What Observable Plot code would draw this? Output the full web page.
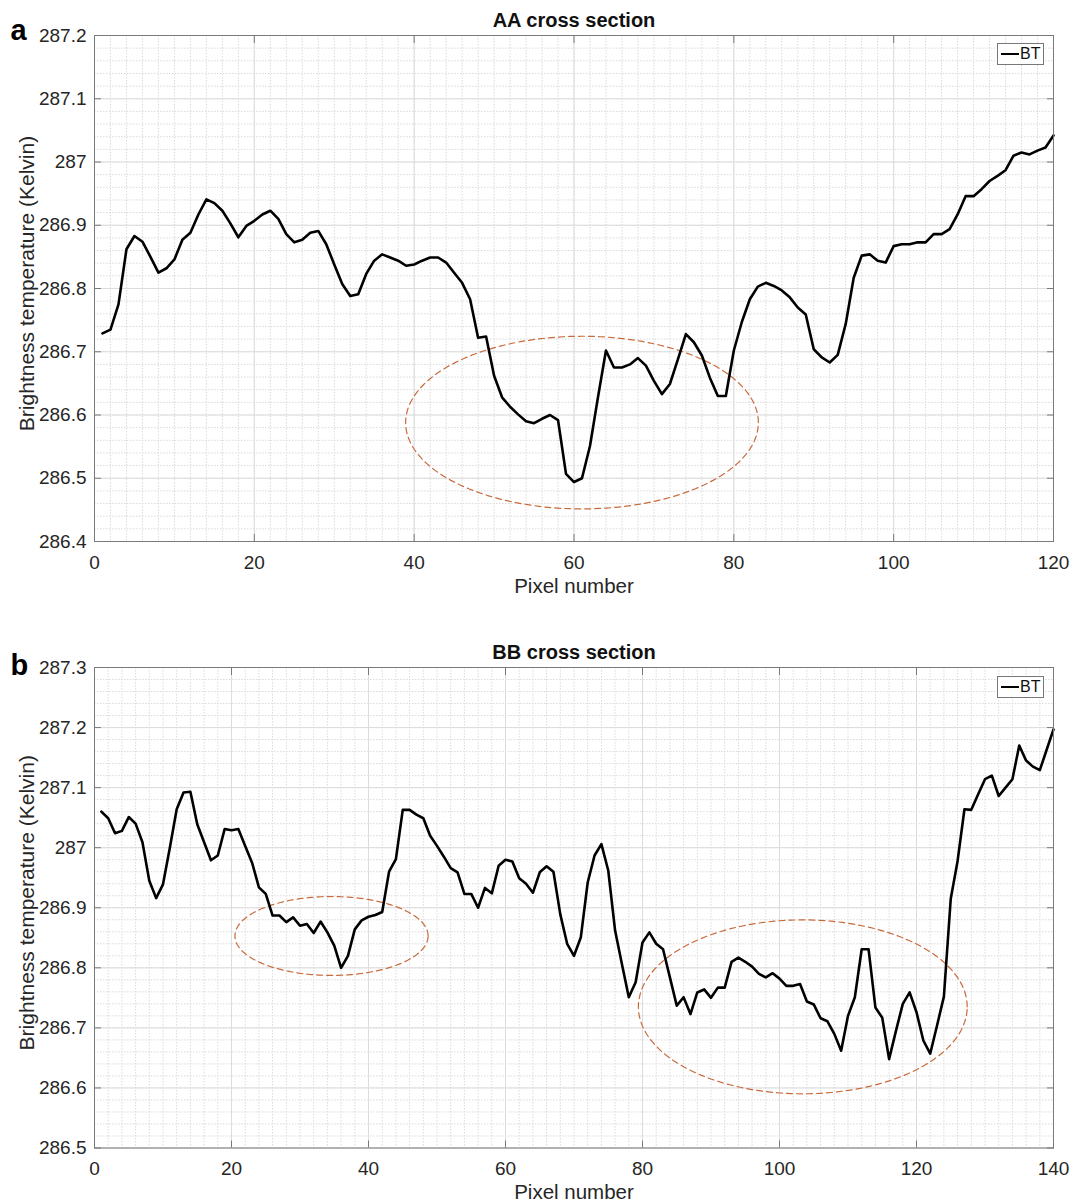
<!DOCTYPE html>
<html><head><meta charset="utf-8">
<script src="https://cdn.jsdelivr.net/npm/d3@7"></script>
<script src="https://cdn.jsdelivr.net/npm/@observablehq/plot@0.6"></script>
<style>
body{margin:0;background:#fff;font-family:"Liberation Sans",Arial,sans-serif;}
#wrap{position:relative;width:1075px;height:1203px;background:#fff;}
.panel{position:absolute;left:0;}
.legend{position:absolute;border:1px solid #777;background:#fff;box-sizing:border-box;font-size:16px;color:#111;}
.legend .ln{position:absolute;left:3px;width:18px;height:0;border-top:2.5px solid #000;}
.legend .tx{position:absolute;left:22px;}
</style></head><body><div id="wrap"></div>
<script>
// ---- Panel a: AA cross section ----
const titleA = "AA cross section";
const valuesA = [
286.729,286.735,286.775,286.862,286.883,286.874,286.850,286.825,286.832,286.846,
286.877,286.888,286.917,286.941,286.935,286.923,286.903,286.881,286.899,286.907,
286.917,286.923,286.910,286.886,286.873,286.877,286.888,286.891,286.870,286.838,
286.807,286.788,286.791,286.823,286.844,286.854,286.849,286.844,286.836,286.838,
286.844,286.849,286.849,286.841,286.825,286.809,286.783,286.722,286.724,286.662,
286.628,286.613,286.601,286.590,286.587,286.594,286.600,286.592,286.507,286.494,
286.500,286.551,286.628,286.702,286.675,286.675,286.680,286.690,286.678,286.654,
286.633,286.649,286.688,286.728,286.715,286.694,286.659,286.630,286.630,286.702,
286.747,286.783,286.803,286.809,286.804,286.797,286.786,286.770,286.759,286.704,
286.691,286.683,286.695,286.744,286.817,286.852,286.854,286.844,286.841,286.867,
286.870,286.870,286.873,286.873,286.886,286.886,286.894,286.917,286.946,286.946,
286.957,286.970,286.978,286.987,287.010,287.015,287.012,287.018,287.023,287.042];
const xTicksA = [0,20,40,60,80,100,120];
const yTicksA = [286.4,286.5,286.6,286.7,286.8,286.9,287.0,287.1,287.2];
// ellipse annotation: [cx, cy, rx, ry]
const ellipsesA = [[61.0, 286.588, 22.07, 0.1365]];

// ---- Panel b: BB cross section ----
const titleB = "BB cross section";
const valuesB = [
287.060,287.049,287.024,287.028,287.051,287.040,287.009,286.945,286.916,286.939,
287.000,287.064,287.092,287.093,287.039,287.009,286.979,286.987,287.031,287.029,
287.031,287.003,286.975,286.934,286.923,286.887,286.887,286.876,286.884,286.870,
286.873,286.858,286.877,286.859,286.837,286.800,286.820,286.864,286.879,286.885,
286.888,286.893,286.960,286.981,287.063,287.063,287.055,287.049,287.020,287.003,
286.985,286.966,286.959,286.923,286.923,286.900,286.933,286.924,286.970,286.980,
286.977,286.949,286.940,286.925,286.959,286.969,286.960,286.889,286.840,286.820,
286.851,286.942,286.987,287.006,286.962,286.862,286.806,286.751,286.776,286.842,
286.859,286.840,286.831,286.784,286.737,286.751,286.723,286.759,286.764,286.750,
286.767,286.767,286.810,286.817,286.810,286.802,286.790,286.784,286.791,286.782,
286.770,286.770,286.773,286.744,286.739,286.716,286.711,286.690,286.662,286.720,
286.751,286.831,286.831,286.734,286.717,286.648,286.695,286.740,286.759,286.726,
286.679,286.657,286.704,286.752,286.915,286.978,287.064,287.063,287.089,287.114,
287.120,287.086,287.100,287.114,287.170,287.145,287.135,287.129,287.163,287.197];
const xTicksB = [0,20,40,60,80,100,120,140];
const yTicksB = [286.5,286.6,286.7,286.8,286.9,287.0,287.1,287.2,287.3];
const ellipsesB = [[34.6, 286.853, 14.1, 0.0657], [103.4, 286.735, 24.0, 0.1448]];

const yLabel = "Brightness temperature (Kelvin)";
const xLabel = "Pixel number";
const seriesName = "BT";

const fmt = d => String(+(+d).toFixed(1));

function ellipsePoints(list) {
  const pts = [];
  list.forEach(([cx, cy, rx, ry], id) => {
    for (let a = 0; a < 360; a += 2) {
      const t = a * Math.PI / 180;
      pts.push({id, x: cx + rx * Math.cos(t), y: cy + ry * Math.sin(t)});
    }
  });
  return pts;
}

function panel({top, height, mt, mb, values, xTicks, yTicks, title, tag, tagDy, ellipses}) {
  const data = values.map((v, i) => ({x: i + 1, y: v}));
  const xd = [xTicks[0], xTicks[xTicks.length - 1]];
  const yd = [yTicks[0], yTicks[yTicks.length - 1]];
  const xMinor = d3.range(xd[0], xd[1] + 1e-9, 2);
  const yMinor = d3.range(0, Math.round((yd[1] - yd[0]) / 0.02) + 1).map(i => yd[0] + i * 0.02);
  const chart = Plot.plot({
    width: 1075, height, marginTop: mt, marginBottom: mb, marginLeft: 94, marginRight: 22,
    style: {fontFamily: "'Liberation Sans', Arial, sans-serif", fontSize: "19px", color: "#262626", background: "#fff"},
    x: {domain: xd},
    y: {domain: yd},
    marks: [
      Plot.ruleX(xMinor, {stroke: "#dadada", strokeDasharray: "1.5,1.5"}),
      Plot.ruleY(yMinor, {stroke: "#dadada", strokeDasharray: "1.5,1.5"}),
      Plot.ruleX(xTicks, {stroke: "#dcdcdc"}),
      Plot.ruleY(yTicks, {stroke: "#dcdcdc"}),
      Plot.line(ellipsePoints(ellipses), {x: "x", y: "y", z: "id", curve: "linear-closed", stroke: "#c96a3c", strokeWidth: 1.2, strokeDasharray: "6,4"}),
      Plot.line(data, {x: "x", y: "y", stroke: "#000", strokeWidth: 2.6}),
      Plot.frame({stroke: "#7a7a7a"}),
      Plot.axisX(xTicks, {anchor: "bottom", tickSize: -7, tickPadding: 20.5, stroke: "#7a7a7a", fill: "#262626", label: null, tickFormat: fmt}),
      Plot.axisX(xTicks, {anchor: "top", tickSize: -7, stroke: "#7a7a7a", label: null, tickFormat: () => ""}),
      Plot.axisY(yTicks, {anchor: "left", tickSize: -7, tickPadding: 15, stroke: "#7a7a7a", fill: "#262626", label: null, tickFormat: fmt}),
      Plot.axisY(yTicks, {anchor: "right", tickSize: -7, stroke: "#7a7a7a", label: null, tickFormat: () => ""}),
      Plot.text([title], {frameAnchor: "top", dy: -8.5, lineAnchor: "bottom", fontWeight: "bold", fontSize: 20, fill: "#111"}),
      Plot.text([tag], {frameAnchor: "top-left", dx: -84, dy: tagDy, textAnchor: "start", lineAnchor: "bottom", fontWeight: "bold", fontSize: 29, fill: "#000"}),
      Plot.text([xLabel], {frameAnchor: "bottom", dy: 51, lineAnchor: "bottom", fontSize: 20.5, fill: "#262626"}),
      Plot.text([yLabel], {frameAnchor: "left", dx: -61, dy: -5, rotate: -90, textAnchor: "middle", lineAnchor: "bottom", fontSize: 21, fill: "#262626"})
    ]
  });
  chart.classList.add("panel");
  chart.style.top = top + "px";
  document.getElementById("wrap").appendChild(chart);
}

panel({top: 0, height: 600, mt: 35, mb: 59, values: valuesA, xTicks: xTicksA, yTicks: yTicksA, title: titleA, tag: "a", tagDy: 4, ellipses: ellipsesA});
panel({top: 600, height: 603, mt: 67, mb: 55.5, values: valuesB, xTicks: xTicksB, yTicks: yTicksB, title: titleB, tag: "b", tagDy: 7, ellipses: ellipsesB});

function legend(left, top) {
  const d = document.createElement("div");
  d.className = "legend";
  d.style.left = left + "px"; d.style.top = top + "px";
  d.style.width = "47px"; d.style.height = "22px";
  d.innerHTML = `<div class="ln" style="top:9px"></div><div class="tx" style="top:1px">${seriesName}</div>`;
  document.getElementById("wrap").appendChild(d);
}
legend(997, 43);
legend(997, 676);
</script>
</body></html>
